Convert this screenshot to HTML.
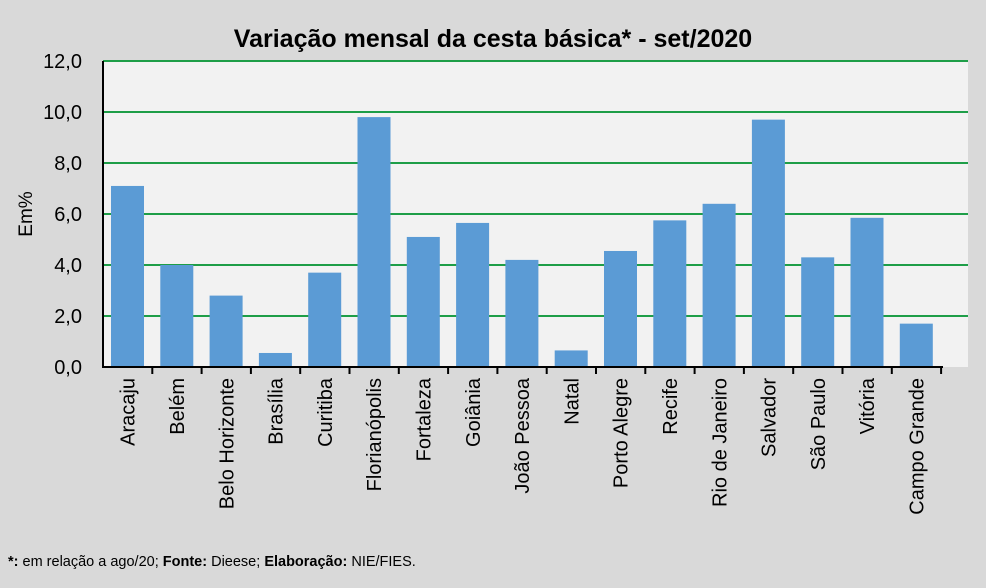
<!DOCTYPE html>
<html><head><meta charset="utf-8"><style>
body{margin:0;width:986px;height:588px;background:#d9d9d9;overflow:hidden}
svg{display:block;font-family:"Liberation Sans",sans-serif}
</style></head><body>
<svg width="986" height="588" xmlns="http://www.w3.org/2000/svg">
<rect width="986" height="588" fill="#d9d9d9"/>
<rect x="103" y="61" width="865" height="306" fill="#f2f2f2"/>
<text x="493" y="47" font-size="25" font-weight="bold" text-anchor="middle" fill="#000">Variação  mensal da cesta básica* - set/2020</text>
<g stroke="#1e9e48" stroke-width="2">
<line x1="103" x2="968" y1="61" y2="61"/><line x1="103" x2="968" y1="112" y2="112"/>
<line x1="103" x2="968" y1="163" y2="163"/><line x1="103" x2="968" y1="214" y2="214"/>
<line x1="103" x2="968" y1="265" y2="265"/><line x1="103" x2="968" y1="316" y2="316"/>
</g>
<g font-size="20" fill="#000" text-anchor="end">
<text x="82" y="374">0,0</text><text x="82" y="323">2,0</text><text x="82" y="272">4,0</text>
<text x="82" y="221">6,0</text><text x="82" y="170">8,0</text><text x="82" y="119">10,0</text><text x="82" y="68">12,0</text>
</g>
<text transform="translate(32,214) rotate(-90)" font-size="19" text-anchor="middle">Em%</text>
<g fill="#5b9bd5" id="bars"></g>
<line x1="103" x2="103" y1="61" y2="368" stroke="#000" stroke-width="2"/>
<line x1="103" x2="943" y1="367" y2="367" stroke="#000" stroke-width="2"/>
<g id="ticks" stroke="#000" stroke-width="2"></g>
<g id="labels" font-size="20"></g>
<text x="8" y="566" font-size="14.5"><tspan font-weight="bold">*:</tspan> em relação a ago/20; <tspan font-weight="bold">Fonte:</tspan> Dieese; <tspan font-weight="bold">Elaboração:</tspan> NIE/FIES.</text>
<script>
var d=[["Aracaju",7.1],["Belém",4.0],["Belo Horizonte",2.8],["Brasília",0.55],["Curitiba",3.7],["Florianópolis",9.8],["Fortaleza",5.1],["Goiânia",5.65],["João Pessoa",4.2],["Natal",0.65],["Porto Alegre",4.55],["Recife",5.75],["Rio de Janeiro",6.4],["Salvador",9.7],["São Paulo",4.3],["Vitória",5.85],["Campo Grande",1.7]];
var ns="http://www.w3.org/2000/svg",sp=49.3,b=document.getElementById("bars"),t=document.getElementById("ticks"),l=document.getElementById("labels");
d.forEach(function(e,i){var x=103+i*sp;
var r=document.createElementNS(ns,"rect");r.setAttribute("x",x+8);r.setAttribute("width",33);var h=e[1]*25.5;r.setAttribute("y",367-h);r.setAttribute("height",h);b.appendChild(r);
var k=document.createElementNS(ns,"line");k.setAttribute("x1",x+sp);k.setAttribute("x2",x+sp);k.setAttribute("y1",367);k.setAttribute("y2",374);t.appendChild(k);
var tx=document.createElementNS(ns,"text");tx.setAttribute("transform","translate("+(x+sp/2+7)+",378) rotate(-90)");tx.setAttribute("text-anchor","end");tx.textContent=e[0];l.appendChild(tx);});
</script>
</svg>
</body></html>
